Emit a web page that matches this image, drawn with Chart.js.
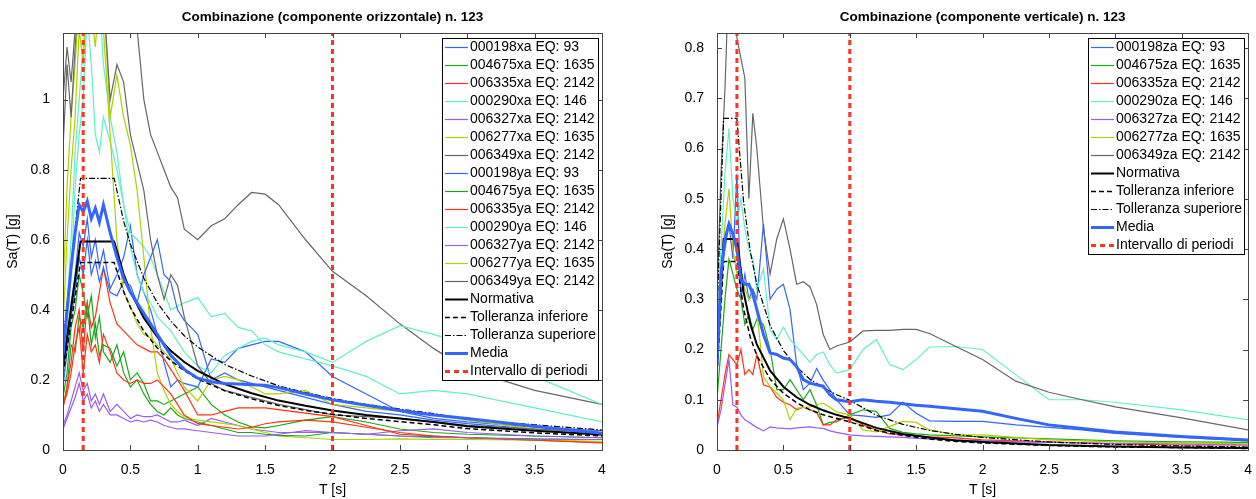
<!DOCTYPE html>
<html>
<head>
<meta charset="utf-8">
<script src="https://cdn.jsdelivr.net/npm/chart.js@4"></script>
<style>
  html, body { margin: 0; padding: 0; background: #fff; }
  #wrap { position: relative; width: 1256px; height: 499px; }
  .panel { position: absolute; top: 0; }
</style>
</head>
<body>
<div id="wrap">
  <div class="panel" style="left:0"><canvas id="chartH" width="615" height="499"></canvas></div>
  <div class="panel" style="left:640px"><canvas id="chartV" width="616" height="499"></canvas></div>
</div>
<script>
const FONT = "'Liberation Sans', Arial, Helvetica, sans-serif";

// periods of the record spectra [s]
const periods = [0, 0.03, 0.06, 0.09, 0.12, 0.15, 0.18, 0.21, 0.24, 0.27,
  0.3, 0.35, 0.4, 0.45, 0.5, 0.55, 0.6, 0.65, 0.7, 0.75,
  0.8, 0.85, 0.9, 1.0, 1.1, 1.2, 1.3, 1.4, 1.5, 1.6,
  1.8, 2.0, 2.25, 2.5, 2.75, 3.0, 3.5, 4.0];

// --- horizontal component (x / y) ---
const h000198xa = [0.2, 0.3, 0.42, 0.5, 0.62, 0.58, 0.66, 0.55, 0.6, 0.52,
  0.57, 0.46, 0.5, 0.55, 0.64, 0.5, 0.45, 0.4, 0.33, 0.25,
  0.18, 0.2, 0.19, 0.18, 0.26, 0.25, 0.29, 0.3, 0.31, 0.31,
  0.28, 0.21, 0.16, 0.11, 0.09, 0.08, 0.065, 0.055];
const h004675xa = [0.12, 0.18, 0.3, 0.28, 0.38, 0.35, 0.42, 0.3, 0.36, 0.27,
  0.3, 0.29, 0.24, 0.28, 0.2, 0.22, 0.19, 0.14, 0.14, 0.13,
  0.14, 0.15, 0.16, 0.18, 0.13, 0.1, 0.08, 0.066, 0.063, 0.07,
  0.085, 0.095, 0.08, 0.06, 0.05, 0.045, 0.04, 0.035];
const h006335xa = [0.12, 0.18, 0.25, 0.35, 0.4, 0.28, 0.42, 0.35, 0.38, 0.45,
  0.52, 0.42, 0.36, 0.34, 0.32, 0.3, 0.29, 0.28, 0.28, 0.26,
  0.23, 0.2, 0.17, 0.1, 0.1, 0.11, 0.12, 0.12, 0.12, 0.115,
  0.105, 0.095, 0.07, 0.045, 0.04, 0.035, 0.028, 0.022];
const h000290xa = [0.22, 0.4, 0.6, 0.85, 1.0, 1.15, 1.3, 1.25, 1.4, 1.3,
  1.1, 0.95, 0.85, 0.7, 0.62, 0.6, 0.58, 0.55, 0.5, 0.45,
  0.4, 0.41, 0.42, 0.435, 0.38, 0.39, 0.35, 0.34, 0.3, 0.28,
  0.26, 0.24, 0.21, 0.16, 0.17, 0.16, 0.12, 0.08];
const h006327xa = [0.07, 0.1, 0.14, 0.18, 0.22, 0.17, 0.19, 0.14, 0.16, 0.13,
  0.16, 0.11, 0.13, 0.11, 0.09, 0.1, 0.095, 0.095, 0.1, 0.09,
  0.08, 0.08, 0.085, 0.07, 0.09, 0.08, 0.07, 0.06, 0.055, 0.05,
  0.05, 0.05, 0.045, 0.055, 0.06, 0.05, 0.04, 0.035];
const h006277xa = [0.45, 0.75, 0.95, 1.1, 1.3, 1.4, 1.35, 1.3, 1.4, 1.25,
  1.3, 0.95, 1.07, 0.95, 0.87, 0.74, 0.55, 0.35, 0.22, 0.17,
  0.13, 0.11, 0.095, 0.085, 0.08, 0.075, 0.07, 0.06, 0.05, 0.04,
  0.035, 0.03, 0.03, 0.032, 0.03, 0.03, 0.028, 0.025];
const h006349xa = [0.86, 1.1, 0.95, 1.15, 1.3, 1.4, 1.5, 1.45, 1.5, 1.4,
  1.45, 1.4, 1.35, 1.3, 1.25, 1.2, 1.0, 0.9, 0.85, 0.8,
  0.75, 0.72, 0.63, 0.6, 0.64, 0.66, 0.7, 0.735, 0.73, 0.7,
  0.6, 0.51, 0.44, 0.36, 0.29, 0.23, 0.17, 0.13];
const h000198ya = [0.18, 0.28, 0.38, 0.45, 0.55, 0.5, 0.6, 0.5, 0.54, 0.48,
  0.52, 0.45, 0.44, 0.48, 0.47, 0.42, 0.5, 0.55, 0.6, 0.5,
  0.48, 0.4, 0.37, 0.33, 0.2, 0.22, 0.2, 0.19, 0.18, 0.17,
  0.15, 0.13, 0.11, 0.1, 0.085, 0.075, 0.06, 0.05];
const h004675ya = [0.15, 0.22, 0.35, 0.4, 0.5, 0.45, 0.38, 0.44, 0.32, 0.38,
  0.28, 0.25, 0.3, 0.22, 0.18, 0.2, 0.16, 0.13, 0.11, 0.1,
  0.12, 0.1, 0.09, 0.08, 0.07, 0.06, 0.05, 0.05, 0.045, 0.042,
  0.04, 0.05, 0.045, 0.04, 0.038, 0.035, 0.032, 0.03];
const h006335ya = [0.13, 0.16, 0.22, 0.3, 0.35, 0.22, 0.33, 0.28, 0.3, 0.25,
  0.33, 0.28, 0.22, 0.2, 0.19, 0.2, 0.19, 0.19, 0.2, 0.18,
  0.16, 0.13, 0.1, 0.075, 0.07, 0.065, 0.06, 0.065, 0.075, 0.08,
  0.085, 0.08, 0.065, 0.05, 0.04, 0.035, 0.028, 0.02];
const h000290ya = [0.2, 0.35, 0.5, 0.75, 0.9, 1.0, 1.25, 1.1, 0.9, 0.85,
  0.95, 0.88, 0.8, 0.7, 0.58, 0.5, 0.45, 0.42, 0.38, 0.36,
  0.34, 0.31, 0.28, 0.24, 0.22, 0.27, 0.29, 0.31, 0.32, 0.3,
  0.28, 0.25, 0.31, 0.355, 0.33, 0.3, 0.21, 0.13];
const h006327ya = [0.06, 0.09, 0.12, 0.15, 0.19, 0.14, 0.16, 0.12, 0.14, 0.11,
  0.13, 0.1, 0.1, 0.09, 0.08, 0.085, 0.08, 0.085, 0.08, 0.07,
  0.065, 0.06, 0.06, 0.055, 0.05, 0.045, 0.04, 0.04, 0.04, 0.045,
  0.055, 0.05, 0.045, 0.04, 0.035, 0.035, 0.03, 0.03];
const h006277ya = [0.35, 0.6, 0.8, 0.95, 1.2, 1.1, 1.3, 1.25, 1.15, 1.3,
  1.2, 0.9, 0.6, 0.45, 0.41, 0.36, 0.33, 0.32, 0.3, 0.28,
  0.26, 0.22, 0.18, 0.14, 0.2, 0.21, 0.2, 0.18, 0.16, 0.16,
  0.17, 0.13, 0.12, 0.11, 0.1, 0.085, 0.06, 0.04];
const h006349ya = [1.0, 1.15, 1.05, 1.2, 1.35, 1.3, 1.4, 1.3, 1.35, 1.25,
  1.3, 1.0, 1.1, 1.05, 0.9, 0.82, 0.74, 0.6, 0.5, 0.43,
  0.5, 0.47, 0.38, 0.24, 0.19, 0.17, 0.16, 0.15, 0.14, 0.13,
  0.115, 0.1, 0.095, 0.09, 0.08, 0.07, 0.06, 0.05];
const hMedia = [0.27, 0.4, 0.52, 0.62, 0.7, 0.68, 0.71, 0.66, 0.69, 0.65,
  0.7, 0.62, 0.55, 0.49, 0.45, 0.42, 0.39, 0.36, 0.33, 0.3,
  0.27, 0.25, 0.23, 0.205, 0.195, 0.19, 0.188, 0.186, 0.185, 0.178,
  0.16, 0.143, 0.128, 0.113, 0.1, 0.09, 0.068, 0.048];

const hNormPeriods = [0, 0.13, 0.38, 0.45, 0.5, 0.6, 0.7, 0.8, 0.9, 1.0, 1.2, 1.4, 1.6, 1.8, 2.0, 2.25, 2.5, 2.75, 3.0, 3.5, 4.0];
const hNormativa = [0.24, 0.595, 0.595, 0.502, 0.452, 0.377, 0.323, 0.283, 0.251, 0.226, 0.188, 0.162, 0.141, 0.126, 0.113, 0.1, 0.09, 0.08, 0.068, 0.055, 0.044];
const hTollInf = [0.216, 0.535, 0.535, 0.452, 0.407, 0.339, 0.291, 0.255, 0.226, 0.203, 0.169, 0.146, 0.127, 0.113, 0.102, 0.09, 0.081, 0.072, 0.061, 0.049, 0.04];
const hTollSup = [0.31, 0.775, 0.775, 0.653, 0.588, 0.49, 0.42, 0.368, 0.326, 0.294, 0.244, 0.211, 0.183, 0.164, 0.147, 0.13, 0.117, 0.104, 0.088, 0.072, 0.057];
const hInterval = [0.15, 2.0];

// --- vertical component (z) ---
const v000198za = [0.2, 0.35, 0.4, 0.45, 0.38, 0.55, 0.3, 0.35, 0.3, 0.32,
  0.3, 0.45, 0.3, 0.32, 0.33, 0.28, 0.17, 0.12, 0.133, 0.162,
  0.139, 0.12, 0.1, 0.07, 0.068, 0.065, 0.07, 0.095, 0.073, 0.058,
  0.057, 0.057, 0.05, 0.045, 0.04, 0.033, 0.025, 0.018];
const v004675za = [0.1, 0.2, 0.3, 0.38, 0.35, 0.32, 0.3, 0.25, 0.27, 0.24,
  0.26, 0.25, 0.2, 0.12, 0.12, 0.14, 0.12, 0.1, 0.12, 0.09,
  0.05, 0.055, 0.056, 0.07, 0.08, 0.077, 0.043, 0.035, 0.032, 0.03,
  0.028, 0.026, 0.024, 0.022, 0.02, 0.018, 0.016, 0.015];
const v006335za = [0.05, 0.1, 0.15, 0.19, 0.18, 0.17, 0.2, 0.15, 0.16, 0.15,
  0.19, 0.13, 0.125, 0.105, 0.095, 0.09, 0.08, 0.085, 0.08, 0.075,
  0.05, 0.05, 0.06, 0.066, 0.05, 0.04, 0.032, 0.03, 0.028, 0.026,
  0.024, 0.02, 0.018, 0.016, 0.014, 0.012, 0.01, 0.01];
const v000290za = [0.25, 0.4, 0.55, 0.64, 0.5, 0.45, 0.5, 0.44, 0.4, 0.38,
  0.32, 0.36, 0.24, 0.22, 0.245, 0.22, 0.205, 0.19, 0.175, 0.19,
  0.195, 0.17, 0.153, 0.16, 0.2, 0.22, 0.17, 0.16, 0.18, 0.205,
  0.206, 0.2, 0.15, 0.1, 0.1, 0.095, 0.08, 0.06];
const v006327za = [0.045, 0.08, 0.13, 0.18, 0.09, 0.085, 0.07, 0.06, 0.055, 0.05,
  0.045, 0.038, 0.046, 0.044, 0.043, 0.042, 0.044, 0.045, 0.046, 0.044,
  0.043, 0.038, 0.035, 0.03, 0.028, 0.027, 0.026, 0.025, 0.023, 0.022,
  0.02, 0.018, 0.016, 0.015, 0.014, 0.013, 0.012, 0.01];
const v006277za = [0.25, 0.35, 0.45, 0.52, 0.4, 0.35, 0.36, 0.32, 0.3, 0.305,
  0.28, 0.146, 0.126, 0.113, 0.1, 0.06, 0.083, 0.085, 0.086, 0.09,
  0.093, 0.085, 0.076, 0.07, 0.04, 0.036, 0.047, 0.057, 0.055, 0.04,
  0.03, 0.03, 0.025, 0.02, 0.018, 0.016, 0.014, 0.012];
const v006349za = [0.3, 0.55, 0.72, 0.95, 0.9, 0.82, 0.78, 0.74, 0.5, 0.67,
  0.6, 0.44, 0.35, 0.42, 0.46, 0.4, 0.33, 0.335, 0.325, 0.29,
  0.23, 0.2, 0.207, 0.215, 0.237, 0.238, 0.238, 0.24, 0.24, 0.232,
  0.206, 0.18, 0.137, 0.115, 0.1, 0.086, 0.064, 0.04];
const vMedia = [0.17, 0.35, 0.42, 0.45, 0.43, 0.4, 0.34, 0.33, 0.33, 0.31,
  0.28, 0.23, 0.193, 0.19, 0.183, 0.18, 0.166, 0.14, 0.133, 0.13,
  0.127, 0.11, 0.1, 0.096, 0.1, 0.097, 0.095, 0.092, 0.089, 0.087,
  0.082, 0.077, 0.063, 0.05, 0.043, 0.036, 0.027, 0.02];

const vNormPeriods = [0, 0.05, 0.15, 0.2, 0.25, 0.3, 0.4, 0.5, 0.6, 0.7, 0.8, 0.9, 1.0, 1.2, 1.4, 1.6, 1.8, 2.0, 2.5, 3.0, 3.5, 4.0];
const vNormativa = [0.17, 0.42, 0.42, 0.315, 0.252, 0.21, 0.158, 0.126, 0.105, 0.09, 0.079, 0.07, 0.063, 0.044, 0.032, 0.025, 0.019, 0.016, 0.01, 0.007, 0.005, 0.004];
const vTollInf = [0.15, 0.375, 0.375, 0.281, 0.225, 0.188, 0.141, 0.113, 0.094, 0.08, 0.07, 0.063, 0.056, 0.039, 0.029, 0.022, 0.017, 0.014, 0.009, 0.006, 0.005, 0.003];
const vTollSup = [0.27, 0.66, 0.66, 0.495, 0.396, 0.33, 0.248, 0.198, 0.165, 0.141, 0.124, 0.11, 0.099, 0.069, 0.051, 0.039, 0.031, 0.025, 0.016, 0.011, 0.008, 0.006];
const vInterval = [0.15, 1.0];

const C = {
  blue: "#3366ff", green: "#18a818", red: "#ff3311", aqua: "#5ff0c8",
  purple: "#9b5cf0", lime: "#b0d000", gray: "#666666"
};

const horizRecords = [
  ["000198xa EQ: 93", h000198xa, C.blue],
  ["004675xa EQ: 1635", h004675xa, C.green],
  ["006335xa EQ: 2142", h006335xa, C.red],
  ["000290xa EQ: 146", h000290xa, C.aqua],
  ["006327xa EQ: 2142", h006327xa, C.purple],
  ["006277xa EQ: 1635", h006277xa, C.lime],
  ["006349xa EQ: 2142", h006349xa, C.gray],
  ["000198ya EQ: 93", h000198ya, C.blue],
  ["004675ya EQ: 1635", h004675ya, C.green],
  ["006335ya EQ: 2142", h006335ya, C.red],
  ["000290ya EQ: 146", h000290ya, C.aqua],
  ["006327ya EQ: 2142", h006327ya, C.purple],
  ["006277ya EQ: 1635", h006277ya, C.lime],
  ["006349ya EQ: 2142", h006349ya, C.gray]
];
const vertRecords = [
  ["000198za EQ: 93", v000198za, C.blue],
  ["004675za EQ: 1635", v004675za, C.green],
  ["006335za EQ: 2142", v006335za, C.red],
  ["000290za EQ: 146", v000290za, C.aqua],
  ["006327za EQ: 2142", v006327za, C.purple],
  ["006277za EQ: 1635", v006277za, C.lime],
  ["006349za EQ: 2142", v006349za, C.gray]
];

function toPoints(xs, ys) {
  return xs.map((x, i) => ({ x: x, y: ys[i] }));
}

function buildDatasets(records, normPeriods, norm, inf, sup, media, bounds, yMax) {
  const ds = [];
  records.forEach(r => {
    ds.push({ label: r[0], data: toPoints(periods, r[1]), borderColor: r[2], borderWidth: 1.2 });
  });
  ds.push({ label: "Normativa", data: toPoints(normPeriods, norm), borderColor: "#000", borderWidth: 2 });
  ds.push({ label: "Tolleranza inferiore", data: toPoints(normPeriods, inf), borderColor: "#000", borderWidth: 1.5, borderDash: [5, 3] });
  ds.push({ label: "Tolleranza superiore", data: toPoints(normPeriods, sup), borderColor: "#000", borderWidth: 1.2, borderDash: [6, 2, 1.5, 2] });
  ds.push({ label: "Media", data: toPoints(periods, media), borderColor: C.blue, borderWidth: 3 });
  bounds.forEach((b, i) => {
    ds.push({
      label: "Intervallo di periodi",
      data: [{ x: b, y: 0 }, { x: b, y: yMax }],
      borderColor: "#ff3322", borderWidth: 3, borderDash: [5, 4],
      noLegend: i > 0
    });
  });
  // later datasets on top, like the original plot
  ds.forEach((d, i) => {
    d.pointRadius = 0;
    d.tension = 0;
    d.fill = false;
    d.order = -i;
  });
  return ds;
}

// inward ticks on all four sides + box
const axesBox = {
  id: "axesBox",
  afterDatasetsDraw(chart) {
    const ctx = chart.ctx, a = chart.chartArea;
    const xs = chart.scales.x, ys = chart.scales.y;
    ctx.save();
    ctx.strokeStyle = "#444";
    ctx.lineWidth = 1;
    ctx.setLineDash([]);
    ctx.beginPath();
    xs.ticks.forEach(t => {
      const px = Math.round(xs.getPixelForValue(t.value)) + 0.5;
      ctx.moveTo(px, a.bottom); ctx.lineTo(px, a.bottom - 5);
      ctx.moveTo(px, a.top); ctx.lineTo(px, a.top + 5);
    });
    ys.ticks.forEach(t => {
      const py = Math.round(ys.getPixelForValue(t.value)) + 0.5;
      ctx.moveTo(a.left, py); ctx.lineTo(a.left + 5, py);
      ctx.moveTo(a.right, py); ctx.lineTo(a.right - 5, py);
    });
    ctx.stroke();
    ctx.strokeRect(Math.round(a.left) + 0.5, Math.round(a.top) + 0.5,
      Math.round(a.right - a.left), Math.round(a.bottom - a.top));
    ctx.restore();
  }
};

// boxed legend in the upper right corner of the plot
const boxLegend = {
  id: "boxLegend",
  afterDraw(chart) {
    const ctx = chart.ctx, a = chart.chartArea;
    const items = chart.data.datasets.filter(d => !d.noLegend);
    ctx.save();
    ctx.font = "14px " + FONT;
    const textW = Math.max(...items.map(d => ctx.measureText(d.label).width));
    const rowH = 18, sample = 28;
    const w = Math.round(sample + textW + 2), h = items.length * rowH;
    const x0 = Math.round(a.right - 4 - w), y0 = Math.round(a.top + 5);
    ctx.fillStyle = "#fff";
    ctx.fillRect(x0, y0, w, h);
    ctx.strokeStyle = "#000";
    ctx.lineWidth = 1;
    ctx.setLineDash([]);
    ctx.strokeRect(x0 + 0.5, y0 + 0.5, w, h);
    items.forEach((d, i) => {
      const y = y0 + rowH / 2 + i * rowH + 0.5;
      ctx.beginPath();
      ctx.setLineDash(d.borderDash || []);
      ctx.strokeStyle = d.borderColor;
      ctx.lineWidth = d.borderWidth;
      ctx.moveTo(x0 + 3, y);
      ctx.lineTo(x0 + 26, y);
      ctx.stroke();
      ctx.fillStyle = "#000";
      ctx.textBaseline = "middle";
      ctx.fillText(d.label, x0 + sample, y);
    });
    ctx.restore();
  }
};

const fmt = v => String(Math.round(v * 100) / 100);

function makeOptions(titleText, yMax, yStep, yWidth, yTitlePad, padRight) {
  const tickFont = { family: FONT, size: 14 };
  return {
    responsive: false,
    animation: false,
    devicePixelRatio: 1,
    layout: { padding: { left: 0, right: padRight, top: 0, bottom: 0 } },
    plugins: {
      legend: { display: false },
      tooltip: { enabled: false },
      title: {
        display: true, text: titleText, fullSize: false, color: "#000",
        font: { family: FONT, size: 13.5, weight: "bold" },
        padding: { top: 9, bottom: 7.8 }
      }
    },
    scales: {
      x: {
        type: "linear", min: 0, max: 4,
        grid: { display: false }, border: { display: false },
        ticks: { stepSize: 0.5, padding: 4, color: "#000", font: tickFont, callback: fmt, maxRotation: 0, autoSkip: false },
        title: { display: true, text: "T [s]", color: "#000", font: tickFont, padding: { top: 0, bottom: 0 } },
        afterFit: s => { s.height = 49; }
      },
      y: {
        type: "linear", min: 0, max: yMax,
        grid: { display: false }, border: { display: false },
        ticks: { stepSize: yStep, includeBounds: false, padding: 5, color: "#000", font: tickFont, callback: fmt, autoSkip: false },
        title: { display: true, text: "Sa(T) [g]", color: "#000", font: tickFont, padding: { top: yTitlePad, bottom: 0 } },
        afterFit: s => { s.width = yWidth; }
      }
    }
  };
}

const hMax = 1.19, vMax = 0.83;

new Chart(document.getElementById("chartH"), {
  type: "line",
  data: { datasets: buildDatasets(horizRecords, hNormPeriods, hNormativa, hTollInf, hTollSup, hMedia, hInterval, hMax) },
  options: makeOptions("Combinazione (componente orizzontale) n. 123", hMax, 0.2, 63, 5, 13),
  plugins: [axesBox, boxLegend]
});

new Chart(document.getElementById("chartV"), {
  type: "line",
  data: { datasets: buildDatasets(vertRecords, vNormPeriods, vNormativa, vTollInf, vTollSup, vMedia, vInterval, vMax) },
  options: makeOptions("Combinazione (componente verticale) n. 123", vMax, 0.1, 77, 20, 5),
  plugins: [axesBox, boxLegend]
});
</script>
</body>
</html>
